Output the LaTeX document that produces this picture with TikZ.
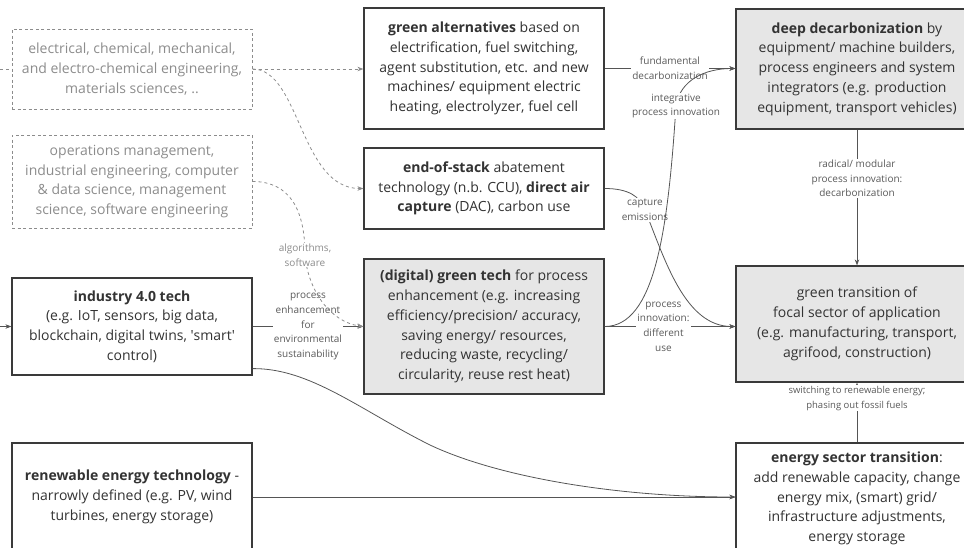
\documentclass[tikz,border=0pt]{standalone}
\usepackage{fontspec}
\setmainfont{Open Sans}
\newfontfamily\sqfont{Open Sans}
\usetikzlibrary{arrows.meta}
\definecolor{boxc}{HTML}{3A3A3A}
\definecolor{fillc}{HTML}{E6E6E6}
\definecolor{txt}{HTML}{333333}
\definecolor{dashc}{HTML}{8C8C8C}
\definecolor{linec}{HTML}{555555}
\definecolor{labc}{HTML}{5A5A5A}
\begin{document}
\begin{tikzpicture}[x=1pt,y=-1pt,
 box/.style={draw=boxc,line width=1.2pt,fill=white,inner sep=0pt,align=center,text=txt,font=\fontsize{14}{19.8}\selectfont},
 graybox/.style={box,fill=fillc},
 dbox/.style={draw=dashc,line width=1pt,dash pattern=on 3pt off 2.5pt,inner sep=0pt,align=center,text=dashc,font=\fontsize{14}{19.8}\selectfont,minimum width=240pt},
 conn/.style={draw=linec,line width=0.8pt},
 arr/.style={conn,-{Stealth[length=6pt,width=4.5pt]}},
 dline/.style={draw=dashc,line width=0.8pt,dash pattern=on 3pt off 3pt},
 darr/.style={dline,-{Stealth[length=6pt,width=4.5pt]}},
 lab/.style={fill=white,text=labc,align=center,inner sep=1pt,font=\fontsize{10}{14.6}\selectfont},
 slab/.style={lab,font=\fontsize{9.5}{15}\selectfont}
]
\useasboundingbox (0,0) rectangle (964,547);

% left column
\node[dbox,minimum height=80pt] (A) at (132,69) {electrical, chemical, mechanical,\\and electro-chemical engineering,\\materials sciences, ..};
\node[dbox,minimum height=93pt] (B) at (132,181.5) {operations management,\\industrial engineering, computer\\\& data science, management\\science, software engineering};
\node[box,minimum width=240pt,minimum height=97pt] (ind) at (132,326.5) {\textbf{industry 4.0 tech}\\(e.g. IoT, sensors, big data,\\blockchain, digital twins, {\sqfont'}smart{\sqfont'}\\control)};
\node[box,minimum width=240pt,minimum height=108pt] (ren) at (132,497) {\textbf{renewable energy technology} -\\narrowly defined (e.g. PV, wind\\turbines, energy storage)};

% middle column
\node[box,minimum width=240pt,minimum height=121pt] (ga) at (484,68.5) {\textbf{green alternatives} based on\\electrification, fuel switching,\\agent substitution, etc. and new\\machines/ equipment electric\\heating, electrolyzer, fuel cell};
\node[box,minimum width=240pt,minimum height=81pt] (eos) at (484,188.5) {\textbf{end-of-stack} abatement\\technology (n.b. CCU), \textbf{direct air}\\\textbf{capture} (DAC), carbon use};
\node[graybox,minimum width=240pt,minimum height=135pt] (dig) at (484,326.5) {\textbf{(digital) green tech} for process\\enhancement (e.g. increasing\\efficiency/precision/ accuracy,\\saving energy/ resources,\\reducing waste, recycling/\\circularity, reuse rest heat)};

% right column
\node[graybox,minimum width=242pt,minimum height=120pt] (deep) at (857,69) {\textbf{deep decarbonization} by\\equipment/ machine builders,\\process engineers and system\\integrators (e.g. production\\equipment, transport vehicles)};
\node[graybox,minimum width=242pt,minimum height=116pt] (gt) at (857,324) {green transition of\\focal sector of application\\(e.g. manufacturing, transport,\\agrifood, construction)};
\node[box,minimum width=242pt,minimum height=111pt] (est) at (857,498.5) {\textbf{energy sector transition}:\\add renewable capacity, change\\energy mix, (smart) grid/\\infrastructure adjustments,\\energy storage};

% stubs from the left edge
\coordinate (sA) at (0,69);
\coordinate (sI) at (0,326.5);
\draw[dline] (sA) -- (A.west);
\draw[arr] (sI) -- (ind.west);

% left connectors
\draw[darr] (A.east) -- (A.east -| ga.west);
\draw[darr] (A.east) .. controls (300,69) and (300,188.5) .. (eos.west);
\draw[arr] (ind.east) -- node[lab]{process\\enhancement\\for\\environmental\\sustainability} (dig.west);
\draw[darr] (B.east) .. controls (290,181.5) and (305,210) .. (305,255) node[lab,text=dashc]{algorithms,\\software} .. controls (308,290) and (330,322) .. (dig.west);
\draw[arr] ([yshift=7pt]ind.south east) .. controls (310,368) and (360,410) .. (430,445) .. controls (500,478) and (620,497) .. (ren.east -| est.west);
\draw[arr] (ren.east) -- (ren.east -| est.west);

% right connectors
\draw[arr] (ga.east) -- node[lab]{fundamental\\decarbonization} (ga.east -| deep.west);
\draw[arr] (dig.east) -- node[lab,pos=0.45]{process\\innovation:\\different\\use} (dig.east -| gt.west);
\draw[arr] (eos.east) .. controls (628,188.5) and (640,196) .. (645,210) node[lab]{capture\\emissions} .. controls (665,260) and (685,326.5) .. (dig.east -| gt.west);
\draw[arr] (dig.east) .. controls (655,326.5) and (668,230) .. (676,106) node[lab]{integrative\\process innovation} .. controls (680,80) and (705,68.5) .. (ga.east -| deep.west);
\draw[arr] (deep.south) -- node[lab,pos=0.36]{radical/ modular\\process innovation:\\decarbonization} (gt.north);
\draw[arr] (est.north) -- node[slab,pos=0.74]{switching to renewable energy;\\phasing out fossil fuels} (gt.south);
\end{tikzpicture}
\end{document}
